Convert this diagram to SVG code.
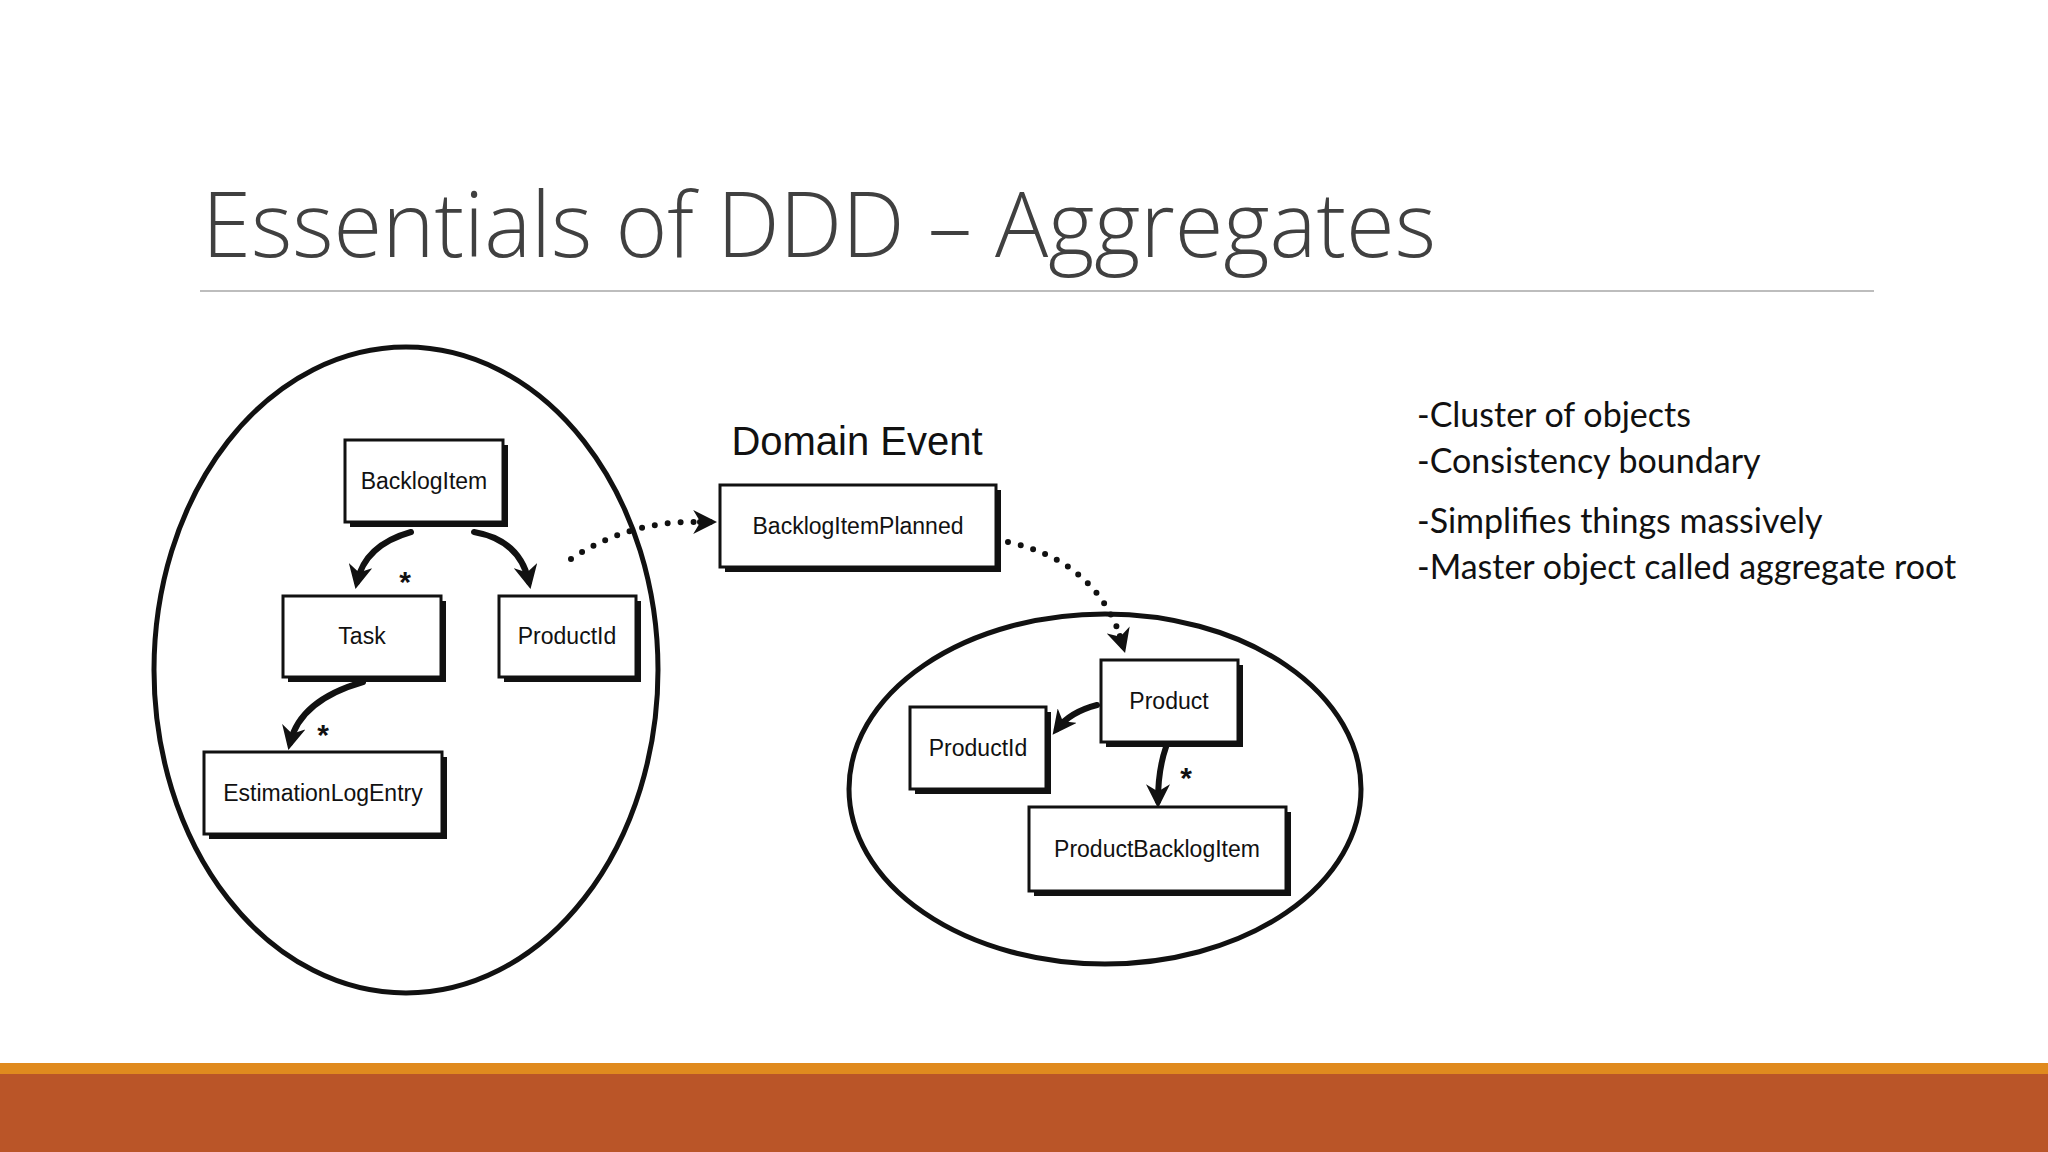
<svg xmlns="http://www.w3.org/2000/svg" width="2048" height="1152" viewBox="0 0 2048 1152">
<defs>
<style>
.sh{fill:#111}
.bx{fill:#fff;stroke:#111;stroke-width:3}
.bt{font-family:"Liberation Sans",Arial,sans-serif;font-size:23px;fill:#111;text-anchor:middle;dominant-baseline:central}
.ar{fill:none;stroke:#111;stroke-width:6;stroke-linecap:round}
.dt{fill:none;stroke:#111;stroke-width:6;stroke-linecap:round;stroke-dasharray:0 13}
.st{font-family:"Liberation Sans",Arial,sans-serif;font-size:30px;font-weight:bold;fill:#111;text-anchor:middle}
.rt{font-family:Lato,"Liberation Sans",sans-serif;font-size:34px;fill:#111}
</style>
<marker id="ah" viewBox="0 0 10 10" refX="7" refY="5" markerWidth="4" markerHeight="4" orient="auto-start-reverse" markerUnits="strokeWidth">
<path d="M0,0 L10,5 L0,10 L3,5 z" fill="#111"/>
</marker>
</defs>
<rect width="2048" height="1152" fill="#fff"/>
<text x="202" y="257" font-family="'Open Sans',Lato,sans-serif" font-weight="300" font-size="90" fill="#404040" textLength="1234" lengthAdjust="spacingAndGlyphs">Essentials of DDD – Aggregates</text>
<line x1="200" y1="291" x2="1874" y2="291" stroke="#bdbdbd" stroke-width="2"/>
<rect x="0" y="1063" width="2048" height="11" fill="#E08A1E"/>
<rect x="0" y="1074" width="2048" height="78" fill="#BA5528"/>
<g id="aggregate1"><ellipse cx="406" cy="670" rx="252" ry="323" fill="none" stroke="#111" stroke-width="5"/></g>
<g id="aggregate2"><ellipse cx="1105" cy="789" rx="256" ry="175" fill="none" stroke="#111" stroke-width="5"/></g>
<g id="connectors">
<path class="ar" d="M411,532 Q365,545 357,582" marker-end="url(#ah)"/>
<path class="ar" d="M474,532 Q520,540 529,582" marker-end="url(#ah)"/>
<path class="ar" d="M363,682 Q300,700 290,743" marker-end="url(#ah)"/>
<path class="dt" d="M571,559 Q630,520 700,522"/>
<path class="ar" d="M700,522 L710,522" marker-end="url(#ah)"/>
<path class="dt" d="M1008,542 Q1090,560 1118,630"/>
<path class="ar" d="M1120,636 L1123,646" marker-end="url(#ah)"/>
<path class="ar" d="M1097,705 Q1070,712 1057,729" marker-end="url(#ah)"/>
<path class="ar" d="M1166,747 Q1158,770 1158,801" marker-end="url(#ah)"/>
<text class="st" x="405" y="592">*</text>
<text class="st" x="323" y="745">*</text>
<text class="st" x="1186" y="788">*</text>
</g>
<g id="BacklogItem"><rect class="sh" x="350" y="445" width="158" height="82"/><rect class="bx" x="345" y="440" width="158" height="82"/><text class="bt" x="424" y="481">BacklogItem</text></g>
<g id="Task"><rect class="sh" x="288" y="601" width="158" height="81"/><rect class="bx" x="283" y="596" width="158" height="81"/><text class="bt" x="362" y="636">Task</text></g>
<g id="ProductId1"><rect class="sh" x="504" y="601" width="137" height="81"/><rect class="bx" x="499" y="596" width="137" height="81"/><text class="bt" x="567" y="636">ProductId</text></g>
<g id="EstimationLogEntry"><rect class="sh" x="209" y="757" width="238" height="82"/><rect class="bx" x="204" y="752" width="238" height="82"/><text class="bt" x="323" y="793">EstimationLogEntry</text></g>
<g id="DomainEvent"><text x="857" y="455" font-family="'Liberation Sans',Arial,sans-serif" font-size="40" fill="#111" text-anchor="middle">Domain Event</text>
<rect class="sh" x="725" y="490" width="276" height="82"/><rect class="bx" x="720" y="485" width="276" height="82"/><text class="bt" x="858" y="526">BacklogItemPlanned</text></g>
<g id="Product"><rect class="sh" x="1106" y="665" width="137" height="82"/><rect class="bx" x="1101" y="660" width="137" height="82"/><text class="bt" x="1169" y="701">Product</text></g>
<g id="ProductId2"><rect class="sh" x="915" y="712" width="136" height="82"/><rect class="bx" x="910" y="707" width="136" height="82"/><text class="bt" x="978" y="748">ProductId</text></g>
<g id="ProductBacklogItem"><rect class="sh" x="1034" y="812" width="257" height="84"/><rect class="bx" x="1029" y="807" width="257" height="84"/><text class="bt" x="1157" y="849">ProductBacklogItem</text></g>
<g id="notes">
<text class="rt" x="1417" y="427">-Cluster of objects</text>
<text class="rt" x="1417" y="473">-Consistency boundary</text>
<text class="rt" x="1417" y="533">-Simplifies things massively</text>
<text class="rt" x="1417" y="579">-Master object called aggregate root</text>
</g>
</svg>
